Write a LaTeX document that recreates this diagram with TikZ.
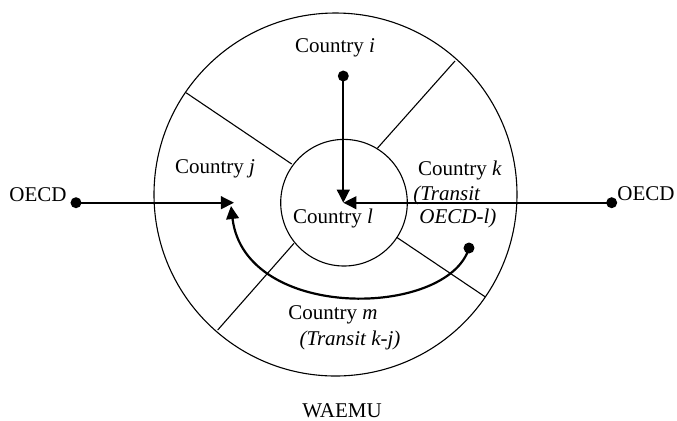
\documentclass[tikz,border=0pt]{standalone}
\usepackage{fontspec}
\setmainfont{Liberation Serif}
\usetikzlibrary{arrows.meta}
\begin{document}
\begin{tikzpicture}[x=0.5pt,y=-0.5pt,
  thinline/.style={line width=0.55pt},
  flow/.style={line width=1.1pt,-{Triangle[length=6.5pt,width=6.3pt]}},
  dot/.style={circle,fill=black,inner sep=0pt,minimum size=5.5pt},
  lbl/.style={font=\fontsize{10.5}{12}\selectfont,inner sep=0pt}]
\useasboundingbox (0,0) rectangle (677,420);
% circles
\coordinate (oc) at (335.5,194.5);
\coordinate (ic) at (344,202.7);
\draw[thinline] (oc) circle[radius=181.5];
\draw[thinline] (ic) circle[radius=63.3];
% dividers
\coordinate (d1a) at (186,92.7);  \coordinate (d1b) at (291.7,164);
\coordinate (d2a) at (455,61);    \coordinate (d2b) at (377.3,148.3);
\coordinate (d3a) at (396.7,237.3); \coordinate (d3b) at (485,296.7);
\coordinate (d4a) at (294,243.3); \coordinate (d4b) at (217.7,330);
\draw[thinline] (d1a) -- (d1b);
\draw[thinline] (d2a) -- (d2b);
\draw[thinline] (d3a) -- (d3b);
\draw[thinline] (d4a) -- (d4b);
% labels
\node[lbl] (ci) at (335,48) {Country \textit{i}};
\node[lbl] (cj) at (215,169) {Country \textit{j}};
\node[lbl] (ck) at (460,170) {Country \textit{k}};
\node[lbl,anchor=west] (tk1) at (413,195) {\textit{(Transit}};
\node[lbl,anchor=west] (tk2) at (419,218) {\textit{OECD-l)}};
\node[lbl] (cl) at (333,218) {Country \textit{l}};
\node[lbl] (cm) at (333,315) {Country \textit{m}};
\node[lbl] (tm) at (350,340) {\textit{(Transit k-j)}};
\node[lbl] (waemu) at (342,411) {WAEMU};
\node[lbl] (oecdl) at (38,195) {OECD};
\node[lbl] (oecdr) at (646,194) {OECD};
% dots and targets
\node[dot] (pi) at (343.3,76) {};
\node[dot] (pl) at (76,202.7) {};
\node[dot] (pr) at (611.7,202.7) {};
\node[dot] (pk) at (469,248) {};
\coordinate (tc) at (343.3,202.7);
\coordinate (tj) at (234,202.7);
\coordinate (tj2) at (231,206);
% arrows
\draw[flow] (pi.center) -- (tc);
\draw[flow] (pr.center) -- (tc);
\draw[flow] (pl.center) -- (tj);
\draw[flow] (pk.center) .. controls (448,318) and (245,322) .. (tj2);
\end{tikzpicture}
\end{document}
